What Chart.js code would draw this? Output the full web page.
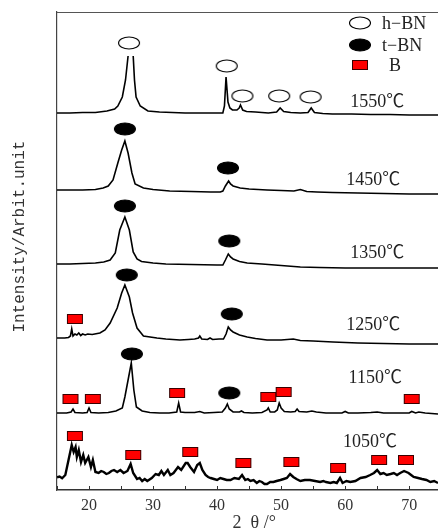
<!DOCTYPE html>
<html>
<head>
<meta charset="utf-8">
<script src="https://cdn.jsdelivr.net/npm/chart.js@4/dist/chart.umd.min.js"></script>
<style>
html,body{margin:0;padding:0;background:#fff;}
#wrap{width:438px;height:529px;position:relative;}
</style>
</head>
<body>
<div id="wrap"><canvas id="c"></canvas></div>
<script>
// ---------------- data (2θ in degrees, intensity in arbitrary units above each trace's baseline) ----------------
const temperatures = ['1550℃', '1450℃', '1350℃', '1250℃', '1150℃', '1050℃'];
const traceOffsets = [376, 300, 226, 152, 77, 12];

const x1550 = [15,17,19,21,22.8,24.0,24.5,25.2,25.7,26.1,26.5,26.9,27.1,27.35,28.0,29.2,31,33,35,37,39,40.9,41.15,41.4,41.7,42.0,42.4,43.1,43.45,43.65,44.0,44.6,46,48,49.3,49.85,50.4,51.5,53,54.2,54.7,55.2,56.5,58,61,64,67,70,72,74.5];
const y1550 = [1,1,1.5,1.5,3,5,8,17,34,58,null,58,34,17,8,3,2,1.5,1,1,1,1,8,37,12,6,4,4,6,9,4,2.5,2,1,2,6,2.5,1.5,1,1.5,6,1.5,0.5,0,0,-0.5,-0.5,-1,-1,-1];

const x1450 = [15,17,19,21,22.2,23.0,23.75,24.5,25.1,25.6,26.1,26.7,27.2,28.5,30,32.6,36,39,40.5,40.9,41.3,41.8,42.1,42.5,43.6,45,47.8,50,52,53,54,55.6,58,62,66,70,74.5];
const y1450 = [0,0,0,0.5,2,4,10,27,40,49,37,17,6,2,0.5,-1,-1.5,-2,-2,-1,4,9,6,4,2,1,0,-0.5,-1,0.5,-1.5,-2,-2.5,-3,-3.5,-4,-4];

const x1350 = [15,17,19,21,22.3,23.3,24.1,24.8,25.6,26.3,26.9,27.5,28.2,30,32,36,40,40.9,41.3,41.75,42.1,42.5,43.5,44.7,47,50,53,56,60,65,70,74.5];
const y1350 = [0,0,0.5,1,2,4,11,34,47,34,12,5,2.5,1,0,-0.5,-1,-1,4,10,7,5,2.5,1,0,-1.5,-3,-3.5,-4,-4,-4,-4];

const x1250 = [15,16.2,16.8,17.1,17.3,17.5,17.8,18.1,18.4,18.7,19.0,19.4,19.8,20.5,21.7,22.5,23.3,24.4,25.1,25.6,26.3,26.8,27.5,28.5,30.6,32,34.2,35.5,36.5,37.1,37.3,37.6,38.5,38.9,39.3,40.3,41.0,41.4,41.75,42.1,42.5,43.5,44.7,46,47.8,50,51.9,53,55,58.1,62,66,70,74.5];
const y1250 = [0,0,0.5,2,9,2,4,3,5,2.5,4,3,4,3.5,5,8,15,30,45,53,41,25,10,2,0,-1,-2,-1.5,-1,0,2,-1,-1.5,0,-1.5,-1,-1,4,11,8,6,3,1,-0.5,-2,-2,-1,-2.5,-3,-4,-5,-5.5,-6,-6];

const x1150 = [15,16.5,17.2,17.5,17.8,19,19.7,20.0,20.3,21.5,23,24.2,25.2,25.6,26.1,26.6,27.0,27.4,28.3,29.5,31,32.5,33.7,34.0,34.3,35,36.5,37.3,38,39.5,40.8,41.3,41.6,41.9,42.5,43.5,43.8,44.2,45.5,47,47.8,48.0,48.3,49.0,49.4,49.7,50.0,50.5,51.5,52.2,52.5,52.8,54,54.8,55.5,57,59.5,60.0,60.5,62,64,65,66,68,70,70.4,71,71.5,72.5,74.5];
const y1150 = [0,0,1,4,0.5,0,0.5,5,0.5,0,0.5,2,5,16,33,50,23,6,2,0.5,0,0,1,10,1,0.5,0.5,1.5,0,0.5,1,5,9,4,1,1,2,0.5,0,0.5,3,5,1,1,3,10,5,1.5,1,1.5,4,1.5,1,2,1,0,0,1.5,0,0,0.5,1,0,0,0,1.5,0,1,0,-1];

const x1050 = [15.0,15.4,15.8,16.3,16.8,17.3,17.6,17.9,18.1,18.4,18.75,19.1,19.4,19.9,20.3,20.6,21.0,21.5,21.9,22.3,22.7,23.1,23.5,23.9,24.4,24.9,25.4,26.0,26.5,26.9,27.5,27.9,28.3,28.7,29.1,29.8,30.4,30.9,31.3,31.7,32.3,32.7,33.2,33.9,34.4,35.1,35.4,35.8,36.4,36.9,37.3,37.7,38.2,38.6,39.0,39.5,40.0,40.5,41.0,41.5,42.1,42.7,43.4,43.9,44.4,44.8,45.2,45.7,46.2,46.6,47.0,47.4,47.8,48.3,48.8,49.3,49.9,50.4,50.9,51.4,51.9,52.4,53.0,53.7,54.5,55.3,56.1,56.6,57.0,57.7,58.2,58.7,59.2,59.6,60.2,60.8,61.6,62.4,63.2,63.9,64.5,65.0,65.5,66.0,66.5,67.1,67.6,68.1,68.6,69.2,69.9,70.3,70.7,71.4,72.0,72.7,73.3,73.9,74.5];
const y1050 = [0.7,1.5,-0.3,3,18,33,26,31,21,28,16,23,15,21,11,18,6,5,7,6,4,5,7,8,6,8,5,7,14,5,-1,0,-3,-1,-3,0,4,3,7,3,8,3,5,11,8,15,15,11,6,13,15,8,3,1,0,-1,-2,0,-1,-2,-2,0,-1,3,-2,-1,-3,-2,-5,-3,-4,-6,-6,-4,-4,-3,-2,-1,0,4,1,-1,-3,-2,-2,-3,-4,-3,-4,-5,-4,-5,0,-5,-3,-4,-3,0,1,3,5,8,4,5,3,4,5,3,5,7,5,3,1,0,-1,-2,-4,-3,-5];

const traceX = [x1550, x1450, x1350, x1250, x1150, x1050];
const traceY = [y1550, y1450, y1350, y1250, y1150, y1050];

// phase markers (2θ, stacked height)
const hbnX = [26.25, 41.5, 43.95, 49.7, 54.6];
const hbnY = [447, 424, 394, 394, 393];
const tbnX = [25.6, 41.7, 25.6, 41.9, 25.9, 42.3, 26.7, 41.9];
const tbnY = [361, 322, 284, 249, 215, 176, 136, 97];
const bX = [17.8, 17.1, 20.6, 33.75, 48.0, 50.4, 70.4, 17.8, 26.9, 35.8, 44.1, 51.6, 58.9, 65.3, 69.5];
const bY = [171, 91, 91, 97, 93, 98, 91, 54, 35, 38, 27, 28, 22, 30, 30];

// temperature label anchors
const tempX = [65.0, 64.4, 65.0, 64.4, 64.7, 63.9];
const tempY = [388, 310, 237, 165, 112, 48];

const legendNames = ['h−BN', 't−BN', 'B'];
const xTickStep = 5;
const xMin = 15, xMax = 74.5, yMin = 0, yMax = 478;

// ---------------- styling ----------------
const SERIF = "'Liberation Serif', 'Noto Sans CJK SC', serif";
const MONO = "'Liberation Mono', 'DejaVu Sans Mono', monospace";

function ellipseImg(filled) {
  const c = document.createElement('canvas');
  c.width = 24; c.height = 14;
  const g = c.getContext('2d');
  g.beginPath();
  g.ellipse(12, 7, 10.5, 6, 0, 0, Math.PI * 2);
  g.fillStyle = filled ? '#000' : '#fff';
  g.fill();
  g.lineWidth = 1.1;
  g.strokeStyle = '#000';
  g.stroke();
  return c;
}
function rectImg() {
  const c = document.createElement('canvas');
  c.width = 18; c.height = 12;
  const g = c.getContext('2d');
  g.fillStyle = '#ff0000';
  g.fillRect(1, 1, 16, 10);
  g.lineWidth = 1;
  g.strokeStyle = '#3a0000';
  g.strokeRect(1.5, 1.5, 15, 9);
  return c;
}
const imgH = ellipseImg(false), imgT = ellipseImg(true), imgB = rectImg();

const datasets = [];
traceX.forEach((xs, k) => {
  datasets.push({
    label: temperatures[k],
    data: xs.map((v, i) => ({ x: v, y: traceY[k][i] === null ? null : traceY[k][i] + traceOffsets[k] })),
    showLine: true, pointRadius: 0, borderColor: '#000',
    borderWidth: k === 5 ? 2.4 : 1.6, spanGaps: false, tension: 0
  });
});
function markerSet(name, xs, ys, img) {
  return { label: name, data: xs.map((v, i) => ({ x: v, y: ys[i] })), showLine: false,
           pointStyle: img, pointRadius: 6, pointHoverRadius: 6 };
}
datasets.push(markerSet('h-BN', hbnX, hbnY, imgH));
datasets.push(markerSet('t-BN', tbnX, tbnY, imgT));
datasets.push(markerSet('B', bX, bY, imgB));

const decor = {
  id: 'decor',
  afterDraw(chart) {
    const { ctx, chartArea: a, scales: { x, y } } = chart;
    ctx.save();
    // top frame
    ctx.strokeStyle = '#555'; ctx.lineWidth = 1;
    ctx.beginPath(); ctx.moveTo(a.left, a.top + 0.5); ctx.lineTo(a.right, a.top + 0.5); ctx.stroke();
    // inward ticks
    ctx.strokeStyle = '#333'; ctx.lineWidth = 1;
    x.ticks.forEach(t => {
      const px = Math.round(x.getPixelForValue(t.value)) + 0.5;
      ctx.beginPath(); ctx.moveTo(px, a.bottom); ctx.lineTo(px, a.bottom - 4); ctx.stroke();
    });
    // temperature labels
    ctx.fillStyle = '#222';
    ctx.font = '18px ' + SERIF;
    ctx.textAlign = 'center'; ctx.textBaseline = 'middle';
    temperatures.forEach((t, i) => ctx.fillText(t, x.getPixelForValue(tempX[i]), y.getPixelForValue(tempY[i])));
    // legend
    const imgs = [imgH, imgT, imgB];
    const mx = a.right - 78, tx = [a.right - 56, a.right - 56, a.right - 49];
    const rows = [a.top + 11, a.top + 33, a.top + 53];
    ctx.textAlign = 'left';
    imgs.forEach((im, i) => {
      ctx.drawImage(im, mx - im.width / 2, rows[i] - im.height / 2);
      ctx.fillText(legendNames[i], tx[i], rows[i] + 1);
    });
    ctx.restore();
  }
};

new Chart(document.getElementById('c'), {
  type: 'scatter',
  data: { datasets },
  options: {
    responsive: true, maintainAspectRatio: false, animation: false,
    layout: { autoPadding: false, padding: { top: 12, right: 0, left: 0, bottom: 0 } },
    plugins: { legend: { display: false }, tooltip: { enabled: false } },
    scales: {
      x: {
        type: 'linear', min: xMin, max: xMax,
        afterFit: s => { s.height = 39; s.paddingRight = 0; s.paddingLeft = 0; },
        grid: { display: false, drawTicks: false },
        border: { display: true, color: '#333', width: 1.5 },
        ticks: { stepSize: xTickStep, includeBounds: false, autoSkip: false, maxRotation: 0, padding: 6,
                 color: '#333', font: { family: SERIF, size: 16 },
                 callback: v => (v % 10 === 0 ? String(v) : '') },
        title: { display: true, text: '   2  θ /°', color: '#333', font: { family: SERIF, size: 18 },
                 padding: { top: 0, bottom: -5 } }
      },
      y: {
        type: 'linear', min: yMin, max: yMax,
        afterFit: s => { s.width = 57; },
        grid: { display: false, drawTicks: false },
        border: { display: true, color: '#444', width: 1.2 },
        ticks: { display: false },
        title: { display: true, text: '   Intensity/Arbit.unit', color: '#333',
                 font: { family: MONO, size: 16 }, padding: { top: 10, bottom: 0 } }
      }
    }
  },
  plugins: [decor]
});
</script>
</body>
</html>
